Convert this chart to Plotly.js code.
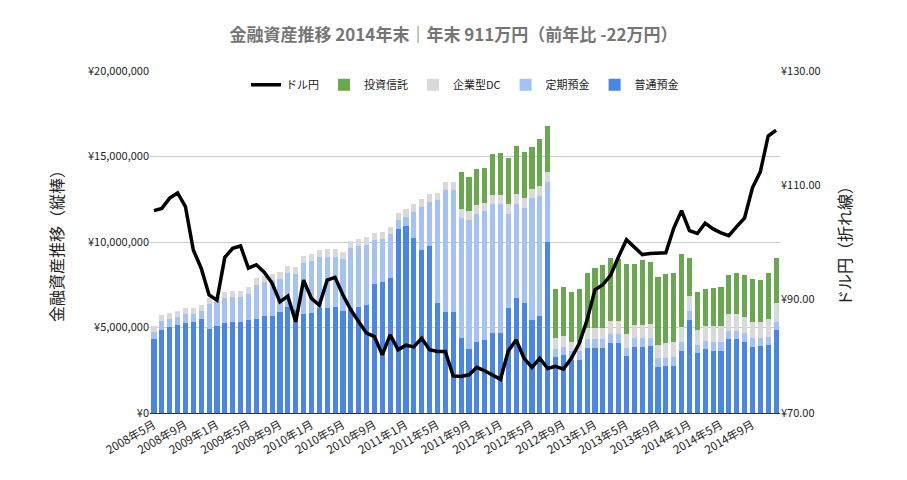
<!DOCTYPE html>
<html><head><meta charset="utf-8">
<script src="https://cdn.plot.ly/plotly-3.0.1.min.js"></script>
<style>body{margin:0}#c{width:907px;height:480px}</style>
</head><body><div id="c"></div>
<script>
// Months 2008/5 .. 2014/12
const months = [];
for (let y = 2008, m = 5; y < 2015; ) { months.push(y + "年" + m + "月"); m++; if (m > 12) { m = 1; y++; } }
// values in millions of yen
const futsu = [4.3,4.85,5.05,5.15,5.25,5.3,5.5,4.9,5.1,5.25,5.3,5.3,5.45,5.5,5.65,5.7,5.92,6.2,6.0,5.79,5.83,6.12,6.15,6.2,5.98,6.12,6.2,6.3,7.54,7.65,7.89,10.78,10.94,10.23,9.53,9.77,6.45,5.92,5.92,
4.37,3.74,4.13,4.27,4.7,4.7,6.16,6.74,6.45,5.44,5.67,10.02,3.29,3.39,3.1,3.1,3.82,3.82,3.82,4.11,4.11,3.35,3.88,3.88,3.9,2.67,2.77,2.77,3.64,5.44,3.49,3.72,3.64,3.64,4.31,4.31,4.17,3.88,3.92,3.98,4.85];
const teiki = [0.43,0.53,0.45,0.48,0.54,0.49,0.48,1.5,1.37,1.49,1.5,1.5,1.52,2.0,2.01,2.05,1.94,2.0,2.12,2.99,3.07,2.99,3.0,2.95,3.03,3.52,3.54,3.55,2.55,2.51,2.55,0.48,0.52,1.54,2.52,2.58,5.98,7.12,7.12,
7.05,7.55,7.51,7.54,7.5,7.5,5.48,5.46,5.56,7.12,7.02,3.51,0.47,0.49,0.54,0.54,0.51,0.51,0.51,0.51,0.51,0.47,0.49,0.49,0.47,0.53,0.47,0.5,0.53,0.52,0.49,0.51,0.53,0.53,0.49,0.51,0.49,0.49,0.45,0.48,0.49];
const dc = [0.35,0.33,0.33,0.33,0.33,0.33,0.34,0.3,0.33,0.35,0.35,0.35,0.38,0.38,0.35,0.35,0.4,0.4,0.4,0.4,0.4,0.42,0.42,0.42,0.42,0.42,0.42,0.42,0.42,0.42,0.42,0.45,0.45,0.45,0.45,0.45,0.45,0.49,0.49,
0.49,0.52,0.52,0.45,0.55,0.55,0.56,0.59,0.55,0.52,0.58,0.56,0.61,0.62,0.49,0.49,0.62,0.62,0.65,0.78,0.78,0.8,0.78,0.78,0.85,0.78,0.87,0.87,0.88,0.88,0.87,0.86,0.92,0.92,0.97,0.97,0.97,0.95,0.97,1.04,1.07];
const toushin = [0,0,0,0,0,0,0,0,0,0,0,0,0,0,0,0,0,0,0,0,0,0,0,0,0,0,0,0,0,0,0,0,0,0,0,0,0,0,0,
2.16,2.01,2.09,2.05,2.4,2.44,2.69,2.82,2.69,2.46,2.73,2.71,2.86,2.89,2.96,3.1,3.22,3.51,3.67,3.64,3.6,4.09,3.56,3.8,3.63,3.96,4.02,4.03,4.23,2.2,2.21,2.16,2.2,2.26,2.3,2.38,2.44,2.5,2.44,2.67,2.63];
const usdjpy = [105.5,105.9,107.7,108.6,106.2,98.6,95.4,90.7,89.8,97.3,98.9,99.3,95.4,96.0,94.7,92.8,89.5,90.5,86.0,93.3,90.1,88.9,93.3,93.8,90.7,88.1,86.0,84.0,83.4,80.2,83.7,81.1,81.9,81.6,83.1,81.1,80.8,80.8,76.5,
76.4,76.7,78.0,77.4,76.7,75.9,80.9,82.8,79.6,78.0,79.6,77.8,78.2,77.7,79.6,82.2,86.3,91.6,92.5,94.2,97.4,100.4,99.1,97.8,98.0,98.1,98.1,102.4,105.5,102.0,101.5,103.3,102.3,101.6,101.1,102.7,104.2,109.5,112.3,118.6,119.6];
const leftTicks = [0,5,10,15,20];
const leftLabels = ["¥0","¥5,000,000","¥10,000,000","¥15,000,000","¥20,000,000"];
const rightTicks = [70,90,110,130];
const rightLabels = ["¥70.00","¥90.00","¥110.00","¥130.00"];

const bar = (name, y, color) => ({type:'bar', name, x:months, y, marker:{color}, hoverinfo:'y'});
const traces = [
  bar('普通預金', futsu, '#4a86e8'),
  bar('定期預金', teiki, '#a4c2f4'),
  bar('企業型DC', dc, '#d9d9d9'),
  bar('投資信託', toushin, '#6aa84f'),
  {type:'scatter', mode:'lines', name:'ドル円', x:months, y:usdjpy, yaxis:'y2', line:{color:'#000', width:3.5}}
];
const layout = {
  width:907, height:480, barmode:'stack', bargap:0.35,
  font:{family:'"Noto Sans CJK JP", Roboto, sans-serif', size:11, color:'#222'},
  paper_bgcolor:'#fff', plot_bgcolor:'#fff',
  margin:{l:150, r:127, t:71, b:67},
  title:{text:'<b>金融資産推移 2014年末｜年末 911万円（前年比 -22万円）</b>', x:0.5, xanchor:'center', y:0.927, yanchor:'middle', font:{size:17, color:'#757575'}},
  legend:{orientation:'h', x:0.5, xanchor:'center', y:0.96, yanchor:'middle', traceorder:'reversed', font:{size:11}, bgcolor:'rgba(0,0,0,0)'},
  xaxis:{type:'category', tickvals:months.filter((_, i) => i % 4 === 0), tickangle:-30, showgrid:false, ticks:'', linecolor:'#333', showline:true, tickfont:{size:11.5}},
  yaxis:{range:[0,20], tickvals:leftTicks, ticktext:leftLabels, gridcolor:'#ccc', zeroline:false,
         title:{text:'金融資産推移（縦棒）', font:{size:16, color:'#222'}, standoff:20}},
  yaxis2:{overlaying:'y', side:'right', range:[70,130], tickvals:rightTicks, ticktext:rightLabels, showgrid:false, zeroline:false,
         title:{text:'ドル円（折れ線）', font:{size:16, color:'#222'}, standoff:20}}
};
Plotly.newPlot('c', traces, layout, {displayModeBar:false});
</script></body></html>
